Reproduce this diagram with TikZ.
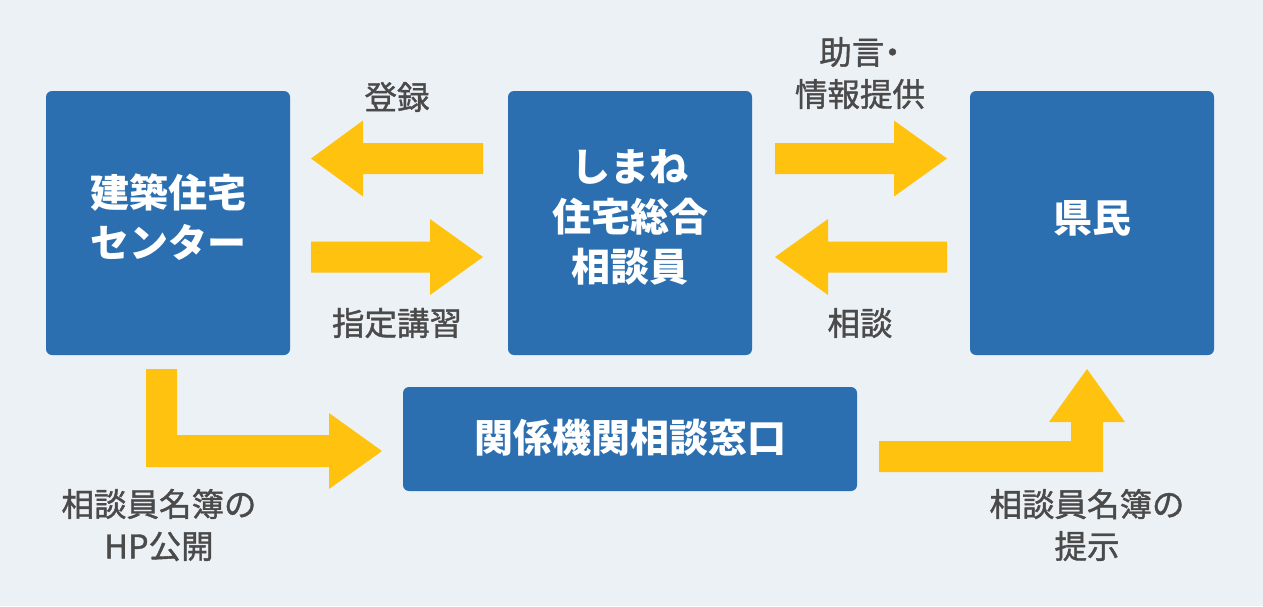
\documentclass[tikz,border=0pt]{standalone}
\usepackage{fontspec}
\newfontfamily\jp{Noto Sans CJK JP}
\newfontfamily\jpm{Noto Sans CJK JP}[FakeBold=1.2]
\definecolor{bgc}{HTML}{ECF1F5}
\definecolor{boxblue}{HTML}{2B6FB0}
\definecolor{arrowy}{HTML}{FFC20F}
\definecolor{labelgray}{HTML}{4A4A4A}
\begin{document}
\begin{tikzpicture}[x=1pt,y=-1pt,
  box/.style={fill=boxblue, rounded corners=6pt, inner sep=0pt},
  bigbox/.style={box, minimum width=244pt, minimum height=264pt},
  boxtext/.style={text=white, font=\jp\bfseries\fontsize{39}{50}\selectfont, align=center, inner sep=0pt},
  lbl/.style={text=labelgray, font=\jpm\fontsize{32.5}{42}\selectfont, align=center, inner sep=0pt},
  blockarrow/.style={fill=arrowy}
]
\fill[bgc] (0,0) rectangle (1263,606);
\useasboundingbox (0,0) rectangle (1263,606);

% boxes
\node[bigbox] (center) at (168,223) {};
\node[bigbox] (soudan) at (630,223) {};
\node[bigbox] (kenmin) at (1092,223) {};
\node[box, minimum width=454pt, minimum height=104pt] (madoguchi) at (630,439) {};

\node[boxtext] (t1) at (168,217) {建築住宅\\センター};
\node[boxtext] (t2) at (630,217) {しまね\\住宅総合\\相談員};
\node[boxtext] (t3) at (1092,218) {県民};
\node[boxtext] (t4) at (630,438) {関係機関相談窓口};

% labels
\node[lbl] (l1) at (397,97) {登録};
\node[lbl] (l2) at (397,323) {指定講習};
\node[lbl] (l3) at (860,73) {\hspace*{8pt}助言\kern-8pt・\\情報提供};
\node[lbl] (l4) at (860,323) {相談};
\node[lbl] (l5) at (159,525) {相談員名簿の\\HP公開};
\node[lbl] (l6) at (1087,525) {相談員名簿の\\提示};

% arrows: register (left)
\fill[blockarrow] (311,158.5) -- (363,120.5) -- (363,143) -- (483,143) -- (483,174) -- (363,174) -- (363,196.5) -- cycle;
% training (right)
\fill[blockarrow] (483,257) -- (430,219) -- (430,241.5) -- (311,241.5) -- (311,272.5) -- (430,272.5) -- (430,295) -- cycle;
% advice (right)
\fill[blockarrow] (947,158.5) -- (894,120.5) -- (894,143) -- (775,143) -- (775,174) -- (894,174) -- (894,196.5) -- cycle;
% consult (left)
\fill[blockarrow] (775,257) -- (828,219) -- (828,241.5) -- (947,241.5) -- (947,272.5) -- (828,272.5) -- (828,295) -- cycle;
% L arrow to madoguchi
\fill[blockarrow] (146,369) -- (177,369) -- (177,435) -- (329,435) -- (329,413) -- (382,451) -- (329,489) -- (329,467) -- (146,467) -- cycle;
% L arrow up to kenmin
\fill[blockarrow] (879,441) -- (1071,441) -- (1071,422) -- (1049,422) -- (1087,369) -- (1125,422) -- (1103,422) -- (1103,472) -- (879,472) -- cycle;
\end{tikzpicture}
\end{document}
